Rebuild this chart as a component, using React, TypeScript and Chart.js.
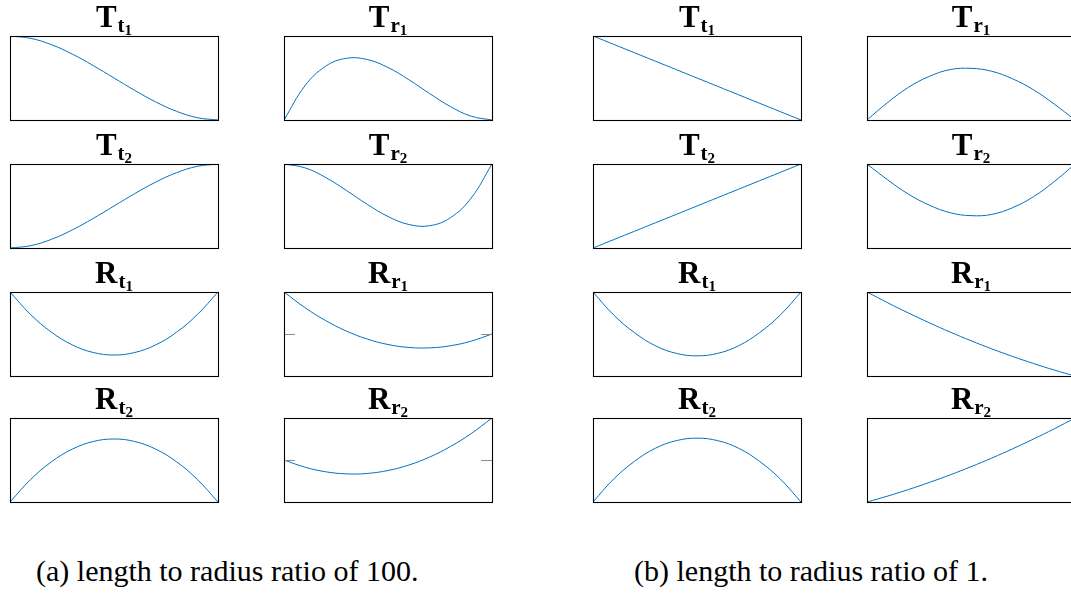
import React, { useEffect, useRef } from "react";
import { Chart, registerables } from "chart.js";

Chart.register(...registerables);

// Normalised position along the element, 0 … 1
const positions = [0, 0.1, 0.2, 0.3, 0.4, 0.5, 0.6, 0.7, 0.8, 0.9, 1];

// Shape functions, length to radius ratio of 100
const tT1A = [1.0, 0.972, 0.896, 0.784, 0.648, 0.5, 0.352, 0.216, 0.104, 0.028, 0.0];
const tR1A = [0, 0.081, 0.128, 0.147, 0.144, 0.125, 0.096, 0.063, 0.032, 0.009, 0];
const tT2A = [0, 0.028, 0.104, 0.216, 0.352, 0.5, 0.648, 0.784, 0.896, 0.972, 1.0];
const tR2A = [0, -0.009, -0.032, -0.063, -0.096, -0.125, -0.144, -0.147, -0.128, -0.081, 0];
const rT1A = [0, -0.54, -0.96, -1.26, -1.44, -1.5, -1.44, -1.26, -0.96, -0.54, 0];
const rR1A = [1, 0.63, 0.32, 0.07, -0.12, -0.25, -0.32, -0.33, -0.28, -0.17, 0];
const rT2A = [0, 0.54, 0.96, 1.26, 1.44, 1.5, 1.44, 1.26, 0.96, 0.54, 0];
const rR2A = [0, -0.17, -0.28, -0.33, -0.32, -0.25, -0.12, 0.07, 0.32, 0.63, 1];

// Shape functions, length to radius ratio of 1
const tT1B = [1, 0.9, 0.8, 0.7, 0.6, 0.5, 0.4, 0.3, 0.2, 0.1, 0];
const tR1B = [0, 0.042, 0.078, 0.104, 0.12, 0.123, 0.116, 0.098, 0.072, 0.038, 0];
const tT2B = [0, 0.1, 0.2, 0.3, 0.4, 0.5, 0.6, 0.7, 0.8, 0.9, 1];
const tR2B = [0, -0.038, -0.072, -0.098, -0.116, -0.123, -0.12, -0.104, -0.078, -0.042, 0];
const rT1B = [0, -0.55, -0.97, -1.28, -1.46, -1.52, -1.46, -1.28, -0.97, -0.55, 0];
const rR1B = [1, 0.871, 0.749, 0.633, 0.523, 0.42, 0.323, 0.233, 0.149, 0.071, 0];
const rT2B = [0, 0.55, 0.97, 1.28, 1.46, 1.52, 1.46, 1.28, 0.97, 0.55, 0];
const rR2B = [0, 0.071, 0.149, 0.233, 0.323, 0.42, 0.523, 0.633, 0.749, 0.871, 1];

// Title parts: main symbol, subscript, sub-subscript
const symbols = ["T", "T", "T", "T", "R", "R", "R", "R"];
const subscripts = ["t", "r", "t", "r", "t", "r", "t", "r"];
const indices = ["1", "1", "2", "2", "1", "1", "2", "2"];

// Y-axis limits per panel (same order as the series of one group)
const yMinsA = [0, 0, 0, -0.2, -2, -1, 0, -1];
const yMaxsA = [1, 0.2, 1, 0, 0, 1, 2, 1];
const yMinsB = [0, 0, 0, -0.2, -2, 0, 0, 0];
const yMaxsB = [1, 0.2, 1, 0, 0, 1, 2, 1];

const seriesA = [tT1A, tR1A, tT2A, tR2A, rT1A, rR1A, rT2A, rR2A];
const seriesB = [tT1B, tR1B, tT2B, tR2B, rT1B, rR1B, rT2B, rR2B];

const captions = ["(a) length to radius ratio of 100.", "(b) length to radius ratio of 1."];

// Layout
const COL_X = [10, 284, 593, 867];
const ROW_Y = [36, 164, 292, 418];
const BOX_W = 208;
const BOX_H = 84;
const PAD_L = 6;
const PAD_R = 6;
const PAD_T = 40;
const PAD_B = 6;
const LINE_BLUE = "#0072BD";
const SERIF = '"Liberation Serif", "DejaVu Serif", serif';

const panelDecor = {
  id: "panelDecor",
  afterDatasetsDraw(chart: any, _args: any, opts: any) {
    const { ctx, chartArea: a } = chart;
    ctx.save();
    const ys = chart.scales.y;
    if (ys.min < 0 && ys.max > 0) {
      const y = Math.round(ys.getPixelForValue(0)) + 0.5;
      ctx.strokeStyle = "#8c8c8c";
      ctx.lineWidth = 1;
      ctx.beginPath();
      ctx.moveTo(a.left, y);
      ctx.lineTo(a.left + 11, y);
      ctx.moveTo(a.right - 11, y);
      ctx.lineTo(a.right, y);
      ctx.stroke();
    }
    ctx.strokeStyle = "#000";
    ctx.lineWidth = 1.1;
    ctx.strokeRect(Math.round(a.left) + 0.5, Math.round(a.top) + 0.5, BOX_W, BOX_H);

    // title with nested subscripts
    const baseY = a.top - 9.5;
    ctx.fillStyle = "#000";
    ctx.textBaseline = "alphabetic";
    ctx.font = `bold 31px ${SERIF}`;
    const wB = ctx.measureText(opts.symbol).width;
    ctx.font = `bold 21px ${SERIF}`;
    const wS = ctx.measureText(opts.sub).width;
    ctx.font = `bold 15px ${SERIF}`;
    const wI = ctx.measureText(opts.index).width;
    const total = wB + 1 + wS + wI;
    let x = (a.left + a.right) / 2 - total / 2;
    ctx.font = `bold 31px ${SERIF}`;
    ctx.fillText(opts.symbol, x, baseY);
    x += wB + 1;
    ctx.font = `bold 21px ${SERIF}`;
    ctx.fillText(opts.sub, x, baseY + 5);
    x += wS;
    ctx.font = `bold 15px ${SERIF}`;
    ctx.fillText(opts.index, x, baseY + 8);
    ctx.restore();
  },
};

type PanelProps = {
  left: number;
  top: number;
  values: number[];
  yMin: number;
  yMax: number;
  symbol: string;
  sub: string;
  index: string;
};

function Panel({ left, top, values, yMin, yMax, symbol, sub, index }: PanelProps) {
  const ref = useRef<HTMLCanvasElement | null>(null);
  useEffect(() => {
    if (!ref.current) return;
    const chart = new Chart(ref.current, {
      type: "line",
      data: {
        datasets: [
          {
            data: positions.map((p, i) => ({ x: p, y: values[i] })),
            borderColor: LINE_BLUE,
            borderWidth: 1,
            pointRadius: 0,
            tension: 0.4,
            fill: false,
          },
        ],
      },
      options: {
        responsive: false,
        animation: false,
        devicePixelRatio: 1,
        layout: { padding: { left: PAD_L, right: PAD_R, top: PAD_T, bottom: PAD_B } },
        scales: {
          x: { type: "linear", min: 0, max: 1, display: false },
          y: { min: yMin, max: yMax, display: false },
        },
        plugins: {
          legend: { display: false },
          tooltip: { enabled: false },
          panelDecor: { symbol, sub, index },
        } as any,
      },
      plugins: [panelDecor],
    });
    return () => chart.destroy();
  }, [values, yMin, yMax, symbol, sub, index]);

  return (
    <canvas
      ref={ref}
      width={BOX_W + PAD_L + PAD_R}
      height={BOX_H + PAD_T + PAD_B}
      style={{
        position: "absolute",
        left: left - PAD_L,
        top: top - PAD_T,
        width: BOX_W + PAD_L + PAD_R,
        height: BOX_H + PAD_T + PAD_B,
      }}
    />
  );
}

const captionStyle: React.CSSProperties = {
  position: "absolute",
  top: 553,
  fontFamily: SERIF,
  fontSize: 30,
  lineHeight: "36px",
  whiteSpace: "nowrap",
  color: "#000",
};

export default function App() {
  const groups = [
    { series: seriesA, mins: yMinsA, maxs: yMaxsA, colOffset: 0 },
    { series: seriesB, mins: yMinsB, maxs: yMaxsB, colOffset: 2 },
  ];
  const panels: React.ReactNode[] = [];
  groups.forEach((g, gi) => {
    g.series.forEach((vals, k) => {
      const row = Math.floor(k / 2);
      const col = g.colOffset + (k % 2);
      panels.push(
        <Panel
          key={`${gi}-${k}`}
          left={COL_X[col]}
          top={ROW_Y[row]}
          values={vals}
          yMin={g.mins[k]}
          yMax={g.maxs[k]}
          symbol={symbols[k]}
          sub={subscripts[k]}
          index={indices[k]}
        />
      );
    });
  });

  return (
    <div
      style={{
        position: "fixed",
        left: 0,
        top: 0,
        width: 1071,
        height: 593,
        overflow: "hidden",
        background: "#fff",
      }}
    >
      {panels}
      <div style={{ ...captionStyle, left: 36 }}>{captions[0]}</div>
      <div style={{ ...captionStyle, left: 634 }}>{captions[1]}</div>
    </div>
  );
}
